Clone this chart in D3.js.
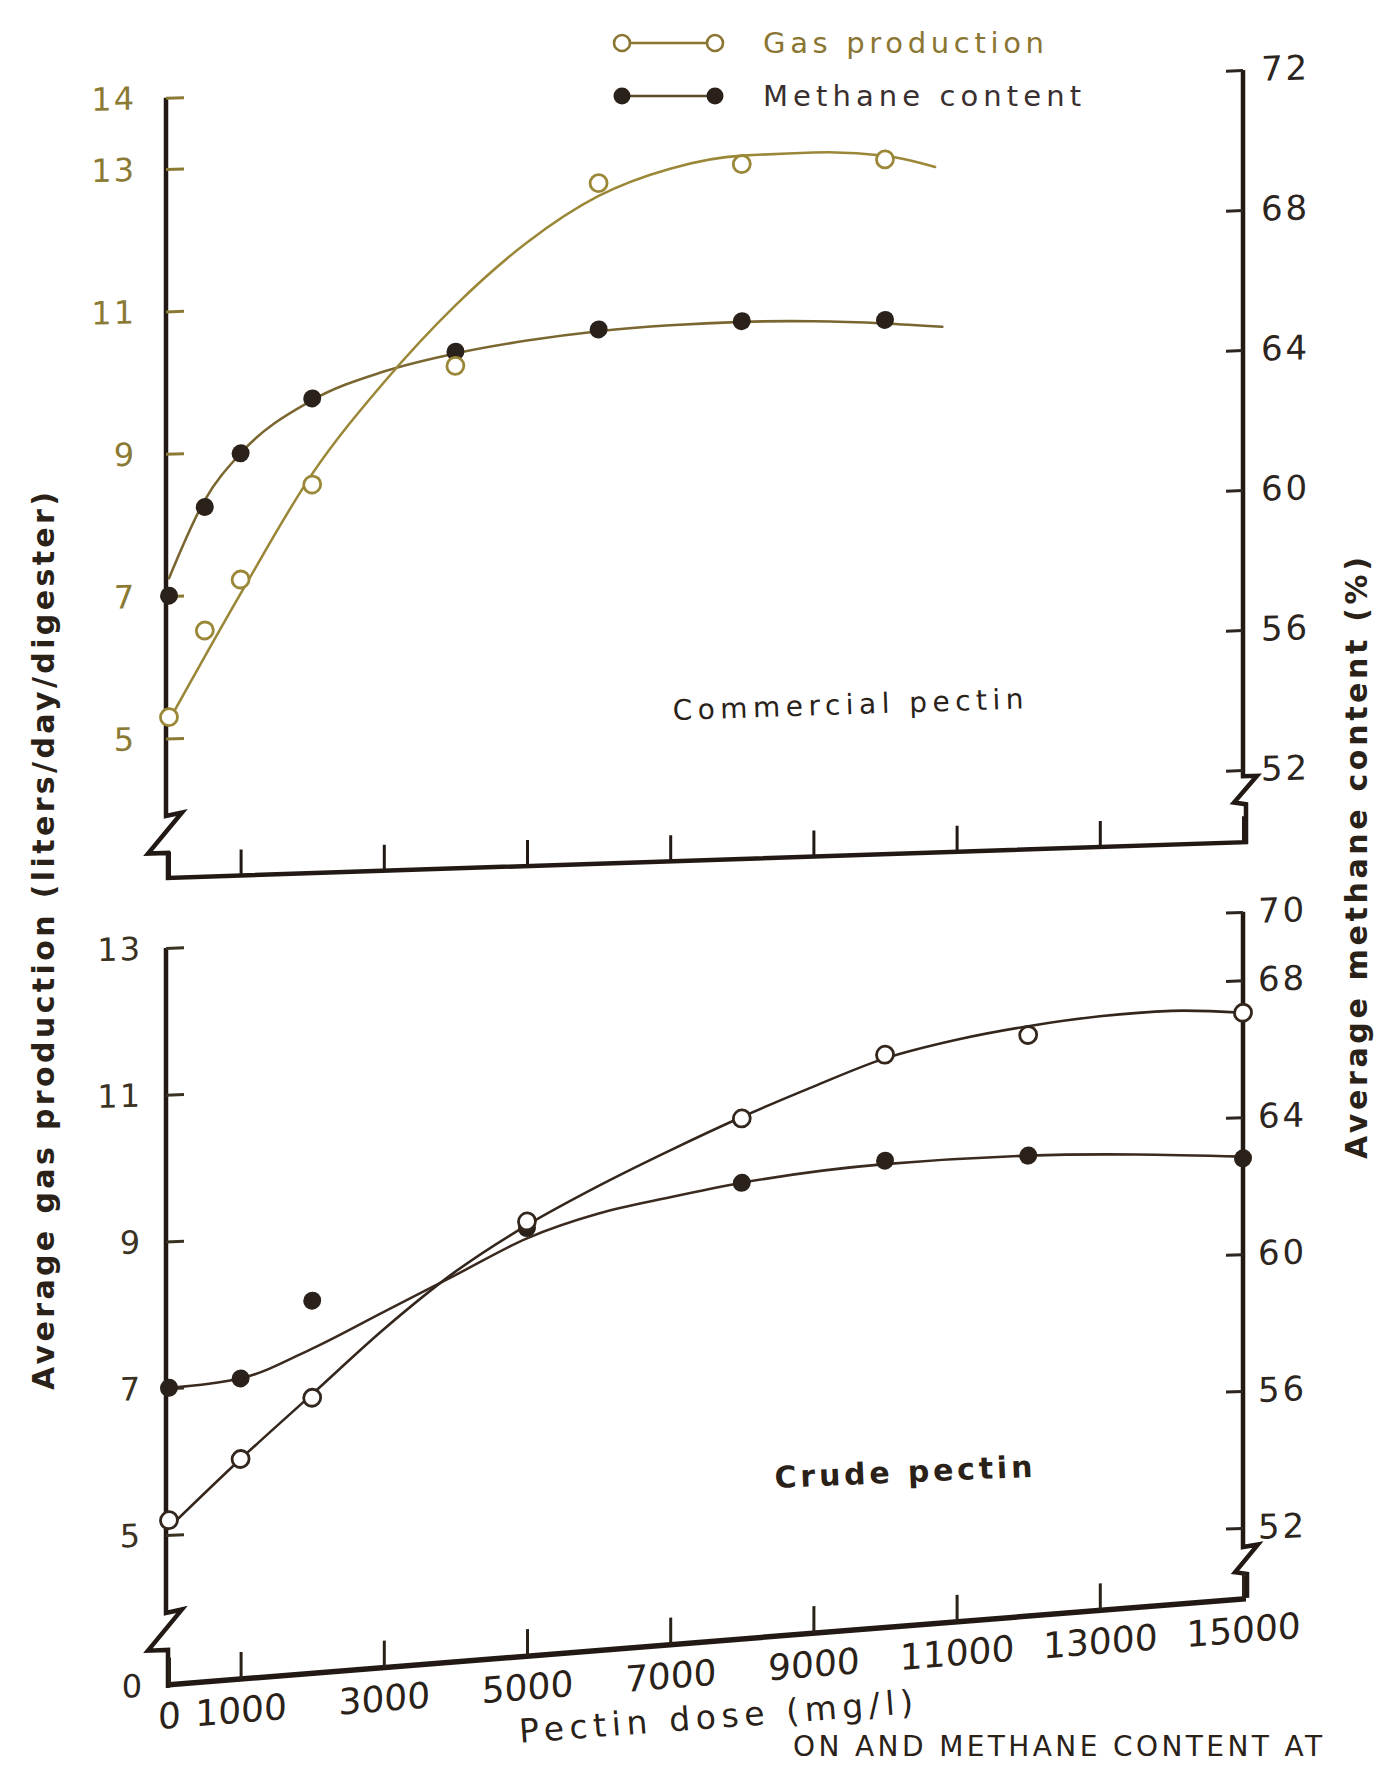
<!DOCTYPE html>
<html><head><meta charset="utf-8">
<script src="https://cdnjs.cloudflare.com/ajax/libs/d3/7.8.5/d3.min.js"></script>
<style>body{margin:0;background:#fff;} svg{display:block;}</style>
</head><body><svg id="chart" width="1392" height="1765"></svg>
<script>
// ---------------- DATA ----------------
// Commercial pectin panel
const commercialDose = [0, 500, 1000, 2000, 4000, 6000, 8000, 10000];
const commercialGas = [5.3, 6.5, 7.2, 8.5, 10.1, 12.6, 12.8, 12.8];
const commercialMethane = [58.0, 60.5, 62.0, 63.5, 64.7, 65.2, 65.3, 65.2];
// hand-drawn smoothing curves
const commercialGasCurveDose = [0, 1000, 2000, 3000, 4000, 5000, 6000, 7000, 8000, 9000, 10000, 10700];
const commercialGasCurve = [5.25, 7.0, 8.65, 9.9, 10.95, 11.8, 12.42, 12.77, 12.92, 12.93, 12.85, 12.67];
const commercialMethaneCurveDose = [0, 500, 1000, 2000, 3000, 4000, 5000, 6000, 7000, 8000, 9000, 10000, 10800];
const commercialMethaneCurve = [58.5, 60.7, 62.0, 63.45, 64.2, 64.65, 64.95, 65.15, 65.25, 65.28, 65.23, 65.1, 64.95];

// Crude pectin panel
const crudeDose = [0, 1000, 2000, 5000, 8000, 10000, 12000, 15000];
const crudeGas = [5.2, 6.0, 6.8, 9.1, 10.4, 11.2, 11.4, 11.6];
const crudeMethane = [57.2, 57.4, 59.6, 61.5, 62.6, 63.1, 63.1, 62.8];
const crudeGasCurveDose = [0, 1000, 2000, 3000, 4000, 5000, 6000, 7000, 8000, 9000, 10000, 11000, 12000, 13000, 14000, 15000];
const crudeGasCurve = [5.1, 6.0, 6.85, 7.7, 8.45, 9.05, 9.55, 10.0, 10.42, 10.8, 11.15, 11.37, 11.52, 11.62, 11.66, 11.6];
const crudeMethaneCurveDose = [0, 1000, 2000, 3000, 4000, 5000, 6000, 7000, 8000, 10000, 12000, 15000];
const crudeMethaneCurve = [57.2, 57.4, 58.2, 59.2, 60.2, 61.2, 61.85, 62.25, 62.6, 63.0, 63.1, 62.85];

// Tick labels
const doseTicks = [0, 1000, 3000, 5000, 7000, 9000, 11000, 13000, 15000];
const topGasTicks = [5, 7, 9, 11, 13, 14];
const topMethaneTicks = [52, 56, 60, 64, 68, 72];
const bottomGasTicks = [5, 7, 9, 11, 13];
const bottomMethaneTicks = [52, 56, 60, 64, 68, 70];

const legendLabels = ["Gas production", "Methane content"];
const panelLabels = ["Commercial pectin", "Crude pectin"];
const xTitle = "Pectin dose (mg/l)";
const yLeftTitle = "Average gas production (liters/day/digester)";
const yRightTitle = "Average methane content (%)";
const captionText = "ON AND METHANE CONTENT AT";

// ---------------- DRAWING ----------------
const svg = d3.select("#chart");
const FONT = "'DejaVu Sans', 'Liberation Sans', Arial, sans-serif";
const AX = "#221915";

const xScale = d3.scaleLinear().domain([0, 15000]).range([3, 1077]);
const zip = (a, b) => a.map((d, i) => [d, b[i]]);
const intFmt = d3.format("d");

function styleAxis(g, size, color, spacing) {
  g.select(".domain").remove();
  g.selectAll(".tick line").attr("stroke", color).attr("stroke-width", 3);
  g.selectAll(".tick text").attr("fill", color).attr("font-size", size)
    .attr("font-family", FONT).attr("letter-spacing", spacing || 0);
  g.attr("font-family", null).attr("font-size", null);
}

function drawSeries(g, yScale, curveDose, curveVals, dose, vals, lineColor, open) {
  const line = d3.line().x(d => xScale(d[0])).y(d => yScale(d[1]))
    .curve(d3.curveMonotoneX);
  g.append("path").datum(zip(curveDose, curveVals))
    .attr("d", line).attr("fill", "none").attr("stroke", lineColor)
    .attr("stroke-width", 2.6).attr("stroke-linecap", "round");
  const pts = g.append("g").selectAll("circle").data(zip(dose, vals)).join("circle")
    .attr("cx", d => xScale(d[0])).attr("cy", d => yScale(d[1]));
  if (open) pts.attr("r", 8.5).attr("fill", "#fff").attr("stroke", lineColor).attr("stroke-width", 2.8);
  else pts.attr("r", 9).attr("fill", "#2a211a");
}

// ===== Top panel : Commercial pectin =====
const topG = svg.append("g").attr("transform", "translate(166,0) skewY(-1.9)");
const yGasT = d3.scaleLinear().domain([4, 14]).range([809.8, 97.8]);
const yMetT = d3.scaleLinear().domain([52, 72]).range([805.8, 105.8]);
const topAxisY = 878;

topG.append("path")
  .attr("d", `M0,${yGasT(14)} V816 L16,813 L-18,853 L2,853 V${topAxisY} H1080 V840 L1068,838 L1091,812 L1077,812 V${yMetT(72)}`)
  .attr("fill", "none").attr("stroke", AX).attr("stroke-width", 4.5).attr("stroke-linejoin", "miter");

topG.append("g").attr("transform", `translate(0,${topAxisY})`)
  .call(d3.axisBottom(xScale).tickValues(doseTicks).tickSizeInner(-26).tickSizeOuter(0).tickFormat(() => ""))
  .call(g => styleAxis(g, 1, AX));
topG.append("g")
  .call(d3.axisLeft(yGasT).tickValues(topGasTicks).tickSizeInner(-18).tickSizeOuter(0).tickPadding(30).tickFormat(intFmt))
  .call(g => styleAxis(g, 32, "#8a7a34", 2));
topG.append("g").attr("transform", "translate(1077,0)")
  .call(d3.axisRight(yMetT).tickValues(topMethaneTicks).tickSizeInner(-17).tickSizeOuter(0).tickPadding(18).tickFormat(intFmt))
  .call(g => styleAxis(g, 34, "#2c2520", 3));

drawSeries(topG, yMetT, commercialMethaneCurveDose, commercialMethaneCurve, commercialDose, commercialMethane, "#7a6630", false);
drawSeries(topG, yGasT, commercialGasCurveDose, commercialGasCurve, commercialDose, commercialGas, "#9a8838", true);

// ===== Bottom panel : Crude pectin =====
const botG = svg.append("g").attr("transform", "translate(166,0) skewY(-2.02)");
const yGasB = d3.scaleLinear().domain([5, 13]).range([1535, 948]);
const yMetB = d3.scaleLinear().domain([52, 70]).range([1565.9, 949.9]);

botG.append("path")
  .attr("d", `M0,${yGasB(13)} V1613 L16,1610 L-18,1650 L2,1650 V1688`)
  .attr("fill", "none").attr("stroke", AX).attr("stroke-width", 4.5);
botG.append("path")
  .attr("d", `M1077,${yMetB(70)} V1585 L1092,1583 L1069,1610 L1081,1612 V1636`)
  .attr("fill", "none").attr("stroke", AX).attr("stroke-width", 4.5);

botG.append("g")
  .call(d3.axisLeft(yGasB).tickValues(bottomGasTicks).tickSizeInner(-18).tickSizeOuter(0).tickPadding(24).tickFormat(intFmt))
  .call(g => styleAxis(g, 32, "#3a3222", 2));
botG.append("g").attr("transform", "translate(1077,0)")
  .call(d3.axisRight(yMetB).tickValues(bottomMethaneTicks).tickSizeInner(-17).tickSizeOuter(0).tickPadding(15).tickFormat(intFmt))
  .call(g => styleAxis(g, 34, "#2c2520", 3));
// broken-axis zero label
botG.append("text").attr("x", -24).attr("y", 1685).attr("dy", "0.35em")
  .attr("text-anchor", "end").attr("font-family", FONT).attr("font-size", 32)
  .attr("fill", "#2c2520").text("0");

drawSeries(botG, yMetB, crudeMethaneCurveDose, crudeMethaneCurve, crudeDose, crudeMethane, "#3a2a20", false);
drawSeries(botG, yGasB, crudeGasCurveDose, crudeGasCurve, crudeDose, crudeGas, "#33261d", true);

// bottom x axis (the page curls more here)
const xAxG = svg.append("g").attr("transform", "translate(166,1685) skewY(-4.57)");
xAxG.append("path").attr("d", "M0,0 H1080").attr("stroke", AX).attr("stroke-width", 5.5).attr("fill", "none");
xAxG.append("g")
  .call(d3.axisBottom(xScale).tickValues(doseTicks).tickSizeInner(-27).tickSizeOuter(0).tickPadding(18).tickFormat(intFmt))
  .call(g => styleAxis(g, 36, "#2a2218", 0));
xAxG.selectAll(".tick text").attr("font-weight", 500);

// ---------------- TEXT ----------------
svg.append("text")
  .attr("transform", "translate(717,1728) rotate(-4.3)")
  .attr("text-anchor", "middle").attr("font-family", FONT).attr("font-size", 33)
  .attr("fill", "#2a2218").attr("textLength", 395).attr("lengthAdjust", "spacing")
  .text(xTitle);

svg.append("text")
  .attr("transform", "translate(54,941) rotate(-90)")
  .attr("text-anchor", "middle").attr("font-family", FONT).attr("font-size", 30)
  .attr("font-weight", "bold").attr("fill", "#2a2218")
  .attr("textLength", 898).attr("lengthAdjust", "spacing")
  .text(yLeftTitle);

svg.append("text")
  .attr("transform", "translate(1367,858) rotate(-90)")
  .attr("text-anchor", "middle").attr("font-family", FONT).attr("font-size", 30)
  .attr("font-weight", "bold").attr("fill", "#2a2218")
  .attr("textLength", 602).attr("lengthAdjust", "spacing")
  .text(yRightTitle);

svg.append("text")
  .attr("transform", "translate(673,720) rotate(-1.9)")
  .attr("font-family", FONT).attr("font-size", 28).attr("fill", "#2a2218")
  .attr("textLength", 351).attr("lengthAdjust", "spacing")
  .text(panelLabels[0]);
svg.append("text")
  .attr("transform", "translate(775,1488) rotate(-2.5)")
  .attr("font-family", FONT).attr("font-size", 30).attr("font-weight", "bold").attr("fill", "#2a2218")
  .attr("textLength", 258).attr("lengthAdjust", "spacing")
  .text(panelLabels[1]);

// legend
const legend = svg.append("g");
const legendRows = [
  {label: legendLabels[0], y: 43, open: true, color: "#8a7632", tl: 281},
  {label: legendLabels[1], y: 96, open: false, color: "#3a3030", tl: 318}
];
legendRows.forEach(r => {
  legend.append("line").attr("x1", 622).attr("x2", 715).attr("y1", r.y).attr("y2", r.y)
    .attr("stroke", r.open ? "#8a7632" : "#5a4a2e").attr("stroke-width", 2.4);
  [622, 715].forEach(cx => {
    const c = legend.append("circle").attr("cx", cx).attr("cy", r.y);
    if (r.open) c.attr("r", 8).attr("fill", "#fff").attr("stroke", "#8a7632").attr("stroke-width", 2.6);
    else c.attr("r", 8.5).attr("fill", "#2a211a");
  });
  legend.append("text").attr("x", 763).attr("y", r.y + 10)
    .attr("font-family", FONT).attr("font-size", 29).attr("fill", r.color)
    .attr("textLength", r.tl).attr("lengthAdjust", "spacing").text(r.label);
});

// caption fragment at the bottom edge of the page
svg.append("text")
  .attr("x", 1322).attr("y", 1756)
  .attr("text-anchor", "end").attr("font-family", FONT).attr("font-size", 28)
  .attr("fill", "#2a2218").attr("textLength", 529).attr("lengthAdjust", "spacing")
  .text(captionText);
</script></body></html>
